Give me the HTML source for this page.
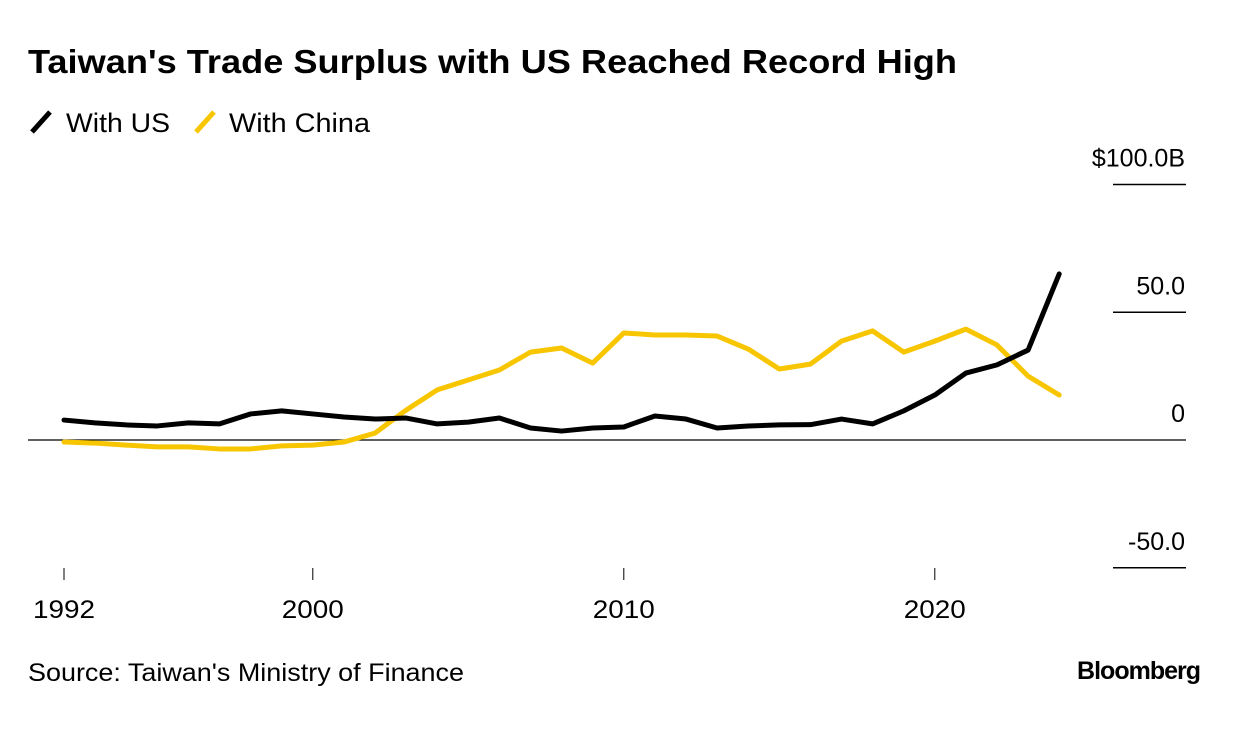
<!DOCTYPE html>
<html><head><meta charset="utf-8"><style>
body{margin:0;background:#fff;width:1240px;height:730px;overflow:hidden;font-family:"Liberation Sans",sans-serif}
</style></head><body>
<svg width="1240" height="730">
<text x="28" y="73" font-size="33" font-weight="bold" fill="#000" textLength="929" lengthAdjust="spacingAndGlyphs">Taiwan's Trade Surplus with US Reached Record High</text>
<g>
<line x1="32" y1="132" x2="50" y2="112" stroke="#000" stroke-width="5"/>
<text x="66" y="132" font-size="27" textLength="104" lengthAdjust="spacingAndGlyphs">With US</text>
<line x1="196" y1="132" x2="214" y2="112" stroke="#f7c600" stroke-width="5"/>
<text x="229" y="132" font-size="27" textLength="141" lengthAdjust="spacingAndGlyphs">With China</text>
</g>
<g id="axes"></g>
<g id="lines"></g>
<text x="28" y="681" font-size="25" textLength="436" lengthAdjust="spacingAndGlyphs">Source: Taiwan's Ministry of Finance</text>
<text x="1200" y="679" font-size="25" font-weight="bold" text-anchor="end" letter-spacing="-1">Bloomberg</text>
</svg>
<script>
const years=[1992,1993,1994,1995,1996,1997,1998,1999,2000,2001,2002,2003,2004,2005,2006,2007,2008,2009,2010,2011,2012,2013,2014,2015,2016,2017,2018,2019,2020,2021,2022,2023,2024];
const usValues=[7.8,6.7,5.9,5.5,6.7,6.3,10.2,11.4,10.2,9,8.2,8.6,6.3,7,8.6,4.7,3.5,4.7,5.1,9.4,8.2,4.7,5.5,5.9,6,8.2,6.3,11.4,17.6,26.2,29.4,35.2,65];
const chinaValues=[-0.8,-1.2,-2,-2.7,-2.7,-3.5,-3.5,-2.3,-2,-0.8,2.7,11.7,19.6,23.5,27.4,34.4,36,30.1,41.9,41.1,41.1,40.7,35.6,27.8,29.7,38.7,42.7,34.4,38.7,43.4,37.2,25,17.6];
const yTicks=[100,50,0,-50];
const yTickLabels=["$100.0B","50.0","0","-50.0"];
const xTicks=[1992,2000,2010,2020];
const ns="http://www.w3.org/2000/svg";
const x=v=>64+(v-1992)*31.1;
const y=v=>440-v*2.555;
const axes=document.getElementById('axes'),lines=document.getElementById('lines');
function mk(tag,attrs,parent){const e=document.createElementNS(ns,tag);for(const k in attrs)e.setAttribute(k,attrs[k]);parent.appendChild(e);return e;}
yTicks.forEach((t,i)=>{
  const l=mk('line',{x1:t===0?28:1113,x2:1186,y1:y(t),y2:y(t),stroke:'#000','stroke-width':t===0?1.2:1.5},axes);
  
  
  const tx=mk('text',{x:1185,y:y(t)-18,'font-size':25,'text-anchor':'end'},axes);
  tx.textContent=yTickLabels[i];
  
  
});
xTicks.forEach(t=>{
  const l=mk('line',{x1:x(t),x2:x(t),y1:568,y2:580,stroke:'#000','stroke-width':1},axes);
  
  
  const tx=mk('text',{x:x(t),y:618,'font-size':25,'text-anchor':'middle',textLength:62,lengthAdjust:'spacingAndGlyphs'},axes);
  tx.textContent=t;
  
  
});
function series(vals,color,name){
  const p=mk('polyline',{points:vals.map((v,i)=>x(years[i])+','+y(v)).join(' '),fill:'none',stroke:color,'stroke-width':5,'stroke-linejoin':'round','stroke-linecap':'round'},lines);
  
  
}
series(chinaValues,'#f7c600','line-with-china');
series(usValues,'#000','line-with-us');
</script>
</body></html>
